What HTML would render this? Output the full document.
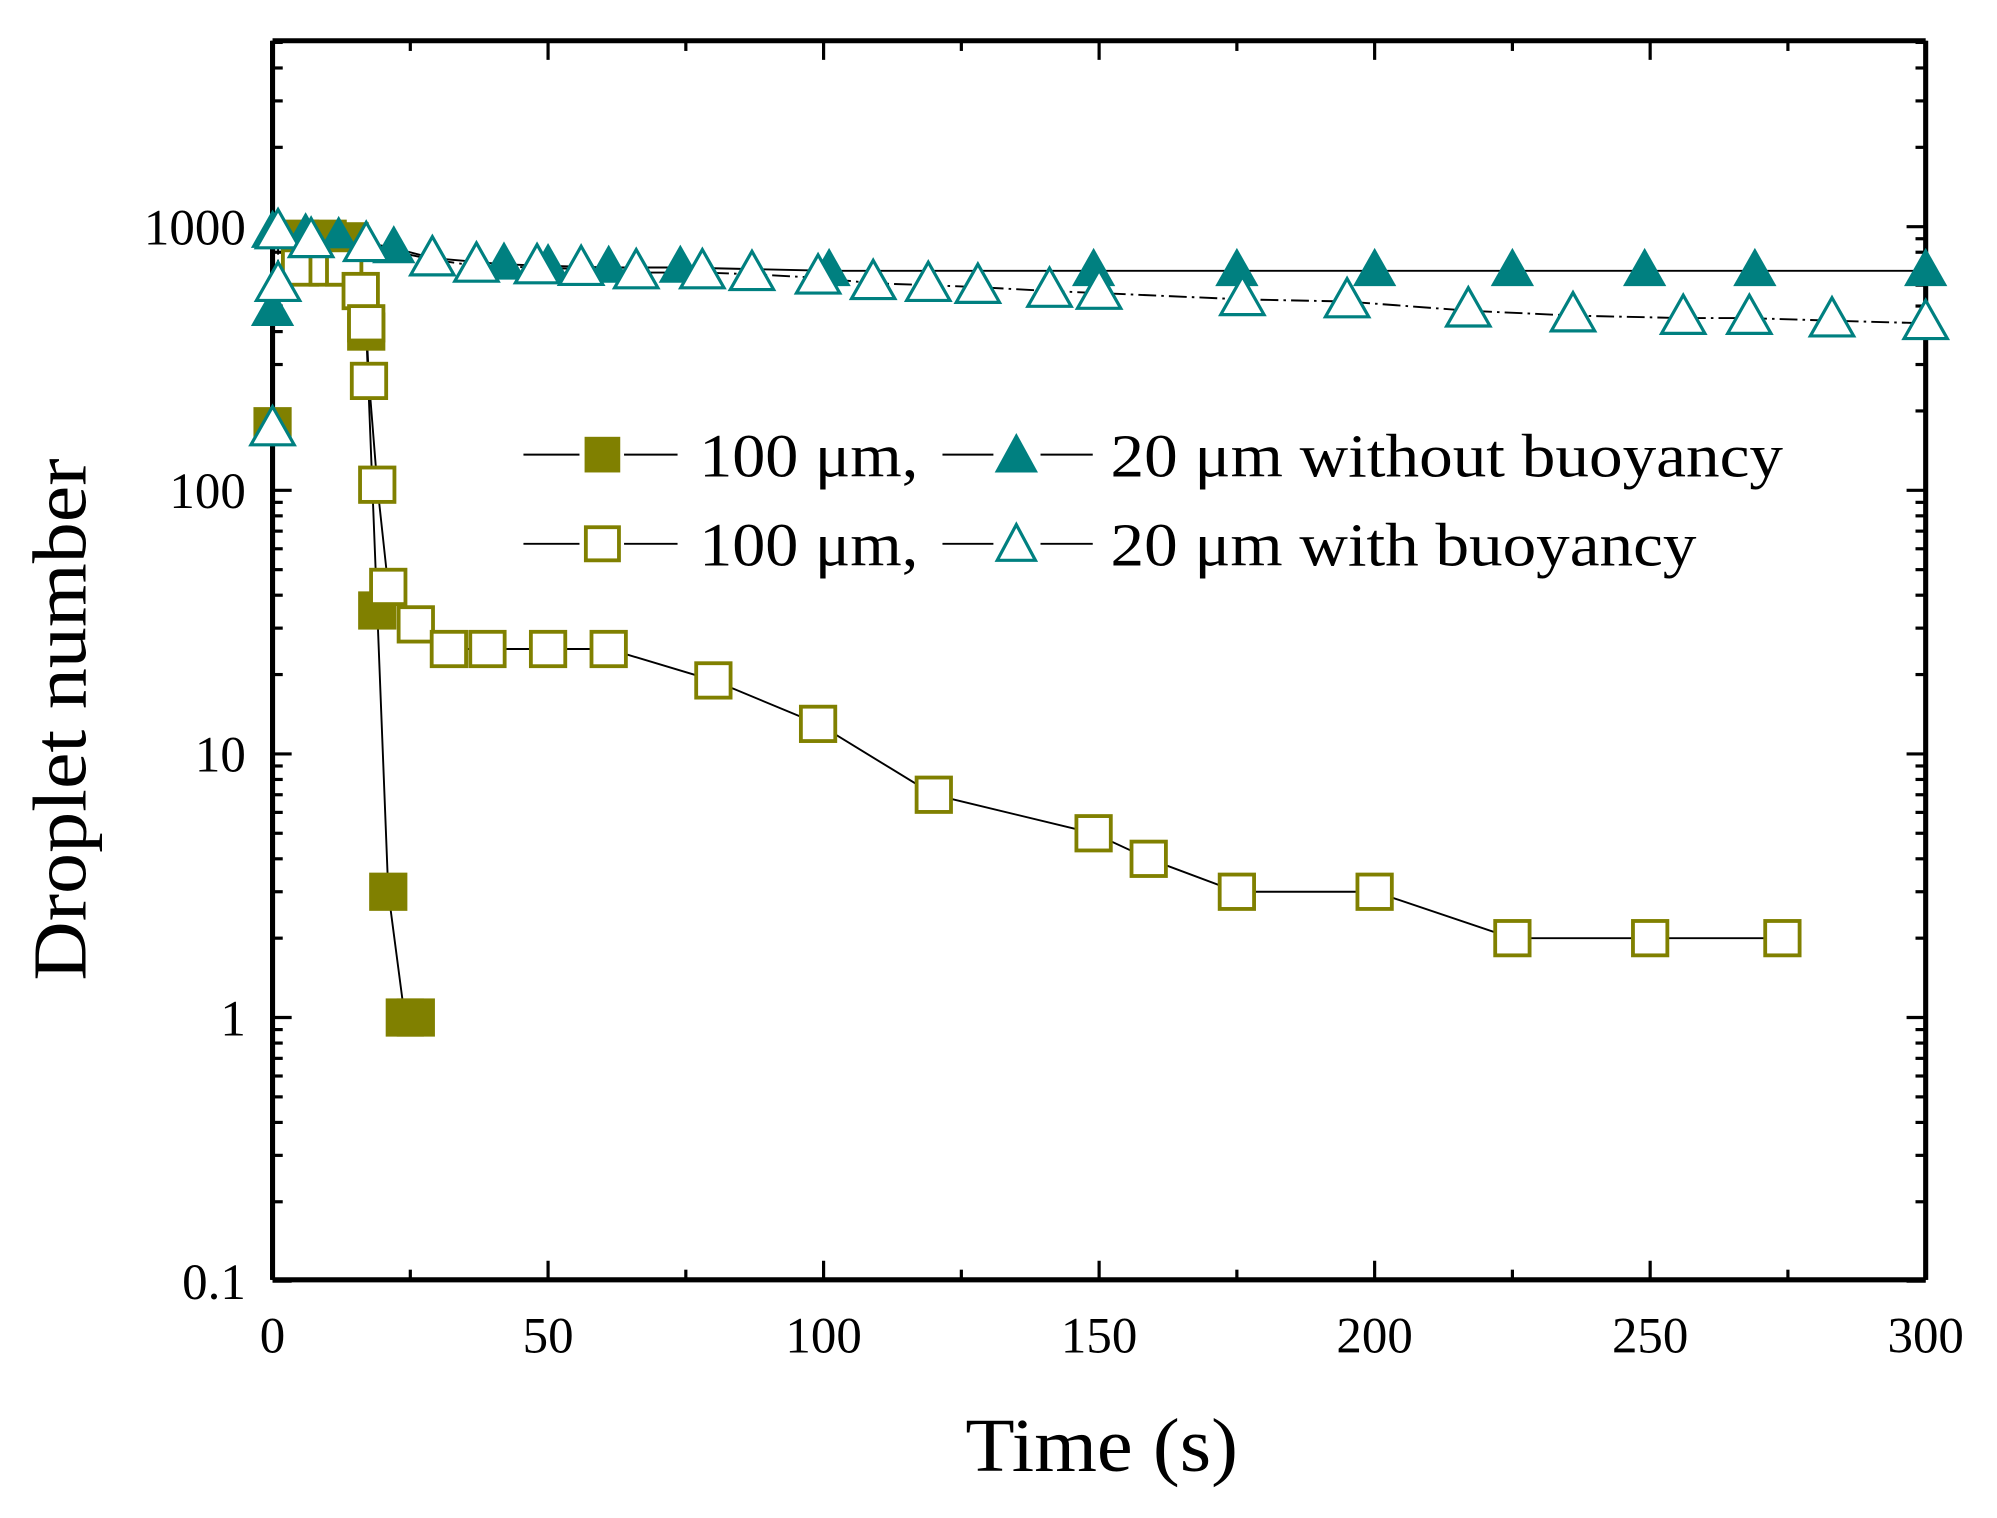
<!DOCTYPE html>
<html><head><meta charset="utf-8"><style>html,body{margin:0;padding:0;background:#fff}svg{display:block}</style></head>
<body>
<svg id="s" width="1997" height="1518" viewBox="0 0 1568 1192" preserveAspectRatio="none" xmlns="http://www.w3.org/2000/svg" font-family="Liberation Serif, serif">
<rect width="1568" height="1192" fill="#fff"/>
<g id="g"></g>
<text x="758" y="1155" font-size="60" textLength="214" lengthAdjust="spacingAndGlyphs">Time (s)</text>
<text transform="translate(67,565) rotate(-90)" font-size="60" text-anchor="middle" textLength="410" lengthAdjust="spacingAndGlyphs">Droplet number</text>
<g font-size="48">
<line x1="411" y1="357" x2="455" y2="357" stroke="#000" stroke-width="1.5"/>
<line x1="490" y1="357" x2="532" y2="357" stroke="#000" stroke-width="1.5"/>
<rect x="459" y="343" width="28" height="28" fill="#808000"/>
<text x="549" y="374" textLength="172" lengthAdjust="spacingAndGlyphs">100 μm,</text>
<line x1="740" y1="357" x2="780" y2="357" stroke="#000" stroke-width="1.5"/>
<line x1="817" y1="357" x2="858" y2="357" stroke="#000" stroke-width="1.5"/>
<polygon points="798,340 815,371 781,371" fill="#008080"/>
<text x="872" y="374" textLength="528" lengthAdjust="spacingAndGlyphs">20 μm without buoyancy</text>
<line x1="411" y1="427" x2="455" y2="427" stroke="#000" stroke-width="1.5"/>
<line x1="490" y1="427" x2="532" y2="427" stroke="#000" stroke-width="1.5"/>
<rect x="460" y="414" width="26" height="26" fill="#fff" stroke="#808000" stroke-width="3"/>
<text x="549" y="444" textLength="172" lengthAdjust="spacingAndGlyphs">100 μm,</text>
<line x1="740" y1="427" x2="780" y2="427" stroke="#000" stroke-width="1.5"/>
<line x1="817" y1="427" x2="858" y2="427" stroke="#000" stroke-width="1.5"/>
<polygon points="798,412 813,440 783,440" fill="#fff" stroke="#008080" stroke-width="2.5"/>
<text x="872" y="444" textLength="460" lengthAdjust="spacingAndGlyphs">20 μm with buoyancy</text>
</g>
</svg>
<script>
var L=214,R=1512,T=32,B=1005;
function X(t){return L+(R-L)*t/300}
function Y(v){return 799-207*Math.log10(v)}
var g=document.getElementById('g'),h='';
function line(a,b,c,d,w){h+='<line x1="'+a+'" y1="'+b+'" x2="'+c+'" y2="'+d+'" stroke="#000" stroke-width="'+w+'"/>'}
for(var t=0;t<=300;t+=25){var x=X(t),len=t%50==0?15:8;line(x,B,x,B-len,2.5);line(x,T,x,T+len,2.5);}
for(var e=-1;e<4;e++)for(var m=1;m<10;m++){var v=m*Math.pow(10,e),y=Y(v);if(y<T)continue;var len=m==1?15:8;line(L,y,L+len,y,2.5);line(R,y,R-len,y,2.5);}
line(L,T,L,B,4);line(R,T,R,B,4);line(L,T,R,T,4);line(L,B,R,B,4);
var lab=['0.1','1','10','100','1000'];
for(var i=0;i<5;i++)h+='<text x="193" y="'+(Y(Math.pow(10,i-1))+14)+'" font-size="40" text-anchor="end">'+lab[i]+'</text>';
for(var t=0;t<=300;t+=50)h+='<text x="'+X(t)+'" y="1062" font-size="40" text-anchor="middle">'+t+'</text>';
var fs=[[0,175],[5,900],[10,900],[14,880],[17,400],[19,35],[21,3],[24,1],[26,1]];
var os=[[5,700],[10,700],[13,700],[16,570],[17,430],[17.5,260],[19,105],[21,43],[26,31],[32,25],[39,25],[50,25],[61,25],[80,19],[99,13],[120,7],[149,5],[159,4],[175,3],[200,3],[225,2],[250,2],[274,2]];
var ft=[[0,480],[0,950],[6,930],[12,900],[17,870],[22,830],[29,760],[42,720],[50,710],[61,700],[74,700],[101,680],[149,680],[175,680],[200,680],[225,680],[249,680],[269,680],[300,680]];
var ot=[[0,170],[1,600],[1,950],[7,880],[17,850],[29,750],[37,710],[48,700],[56,690],[66,670],[78,670],[87,660],[99,640],[109,610],[119,600],[128,590],[141,570],[150,560],[176,530],[195,520],[217,480],[236,460],[256,450],[268,450],[283,440],[300,430]];
function pl(d,da){var p=d.map(function(q){return X(q[0])+','+Y(q[1])}).join(' ');h+='<polyline points="'+p+'" fill="none" stroke="#000" stroke-width="1.5"'+(da?' stroke-dasharray="'+da+'"':'')+'/>';}
pl(ft.slice(1));pl(ot.slice(1),'14,4,2,4');pl(os);pl(fs.slice(1));
function tri(q,f){var x=X(q[0]),y=Y(q[1]);h+='<polygon points="'+x+','+(y-18)+' '+(x+17)+','+(y+12)+' '+(x-17)+','+(y+12)+'" '+(f?'fill="#008080"':'fill="#fff" stroke="#008080" stroke-width="2.5"')+'/>';}
function sq(q,f){var x=X(q[0]),y=Y(q[1]);h+=f?'<rect x="'+(x-15)+'" y="'+(y-15)+'" width="30" height="30" fill="#808000"/>':'<rect x="'+(x-13.5)+'" y="'+(y-13.5)+'" width="27" height="27" fill="#fff" stroke="#808000" stroke-width="3"/>';}
fs.forEach(function(q){sq(q,1)});ft.forEach(function(q){tri(q,1)});os.forEach(function(q){sq(q,0)});ot.forEach(function(q){tri(q,0)});
g.innerHTML=h;
</script>
</body></html>
